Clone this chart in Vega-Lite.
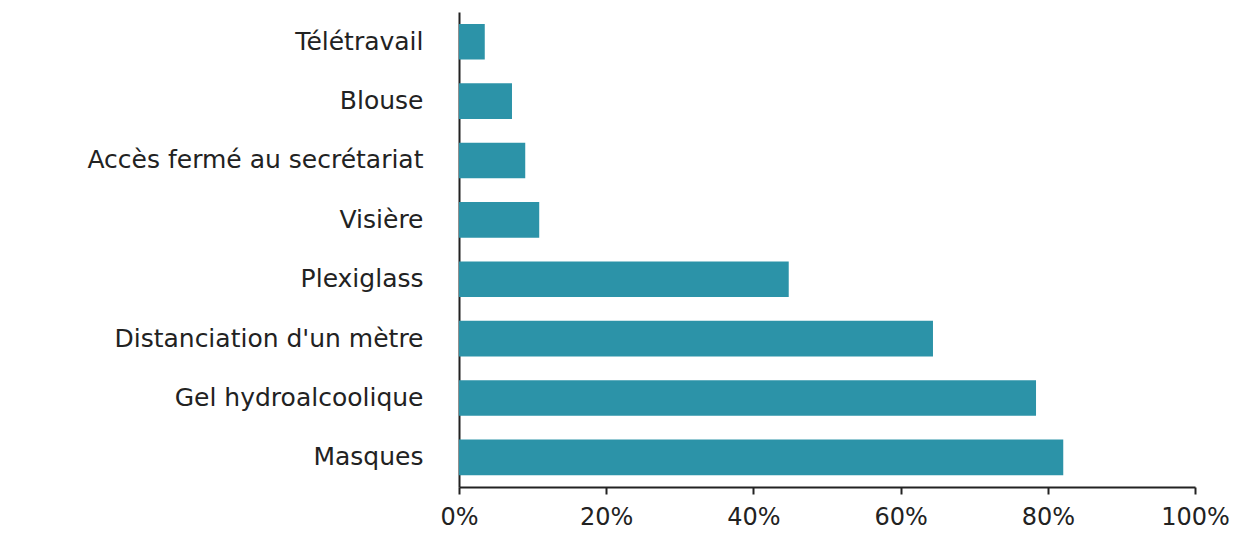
{
  "$schema": "https://vega.github.io/schema/vega-lite/v6.json",
  "width": 736,
  "height": 475,
  "autosize": {"type": "none"},
  "padding": {"left": 459, "top": 12, "right": 50, "bottom": 46},
  "background": "white",
  "config": {"view": {"stroke": null}, "font": "DejaVu Sans"},
  "data": {
    "values": [
      {"mesure": "Télétravail", "pct": 0.035},
      {"mesure": "Blouse", "pct": 0.072},
      {"mesure": "Accès fermé au secrétariat", "pct": 0.09},
      {"mesure": "Visière", "pct": 0.109},
      {"mesure": "Plexiglass", "pct": 0.448},
      {"mesure": "Distanciation d'un mètre", "pct": 0.644},
      {"mesure": "Gel hydroalcoolique", "pct": 0.784},
      {"mesure": "Masques", "pct": 0.821}
    ]
  },
  "mark": {"type": "bar", "color": "#2C93A8"},
  "encoding": {
    "y": {
      "field": "mesure",
      "type": "nominal",
      "sort": null,
      "scale": {"paddingInner": 0.4, "paddingOuter": 0.2},
      "axis": {
        "title": null,
        "ticks": false,
        "domainColor": "#222222",
        "domainWidth": 2,
        "labelFontSize": 25,
        "labelColor": "#222222",
        "labelPadding": 36,
        "labelLimit": 0,
        "labelFont": "DejaVu Sans"
      }
    },
    "x": {
      "field": "pct",
      "type": "quantitative",
      "scale": {"domain": [0, 1]},
      "axis": {
        "title": null,
        "format": ".0%",
        "values": [0, 0.2, 0.4, 0.6, 0.8, 1],
        "grid": false,
        "domainColor": "#222222",
        "domainWidth": 2,
        "tickColor": "#222222",
        "tickWidth": 2,
        "tickSize": 7,
        "labelFontSize": 24,
        "labelColor": "#222222",
        "labelPadding": 11,
        "labelFont": "DejaVu Sans",
        "labelFlush": false
      }
    }
  }
}
